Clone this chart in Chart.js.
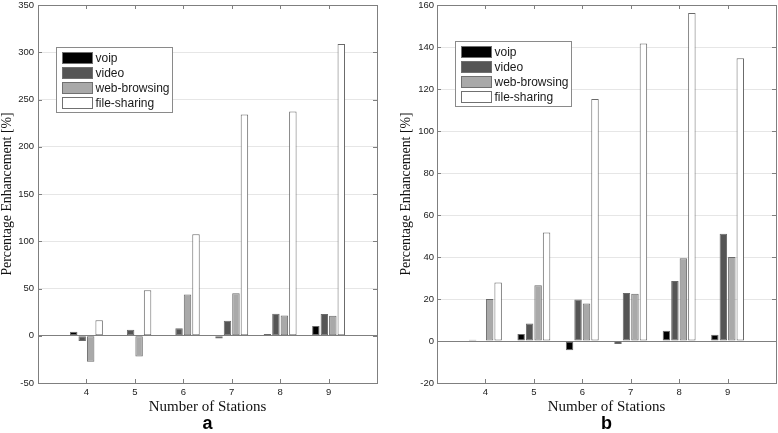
<!DOCTYPE html>
<html>
<head>
<meta charset="utf-8">
<script src="https://cdn.jsdelivr.net/npm/chart.js@4.4.1/dist/chart.umd.min.js"></script>
<style>
  html, body { margin: 0; padding: 0; background: #fff; }
  .panel { position: absolute; top: 0; width: 389px; height: 433px; }
</style>
</head>
<body>
<div class="panel" style="left:0"><canvas id="chartA"></canvas></div>
<div class="panel" style="left:389px"><canvas id="chartB"></canvas></div>
<script>
// ── DATA ──────────────────────────────────────────────────────────────────────
const stations    = [4, 5, 6, 7, 8, 9];
const seriesNames = ['voip', 'video', 'web-browsing', 'file-sharing'];

// panel a
const voipA  = [4.2, -0.5, 0, -3, 1.8, 10.2];
const videoA = [-5.6, 6.3, 8, 15.8, 23.2, 22.9];
const webA   = [-27.5, -22, 43.7, 45, 21.5, 21.1];
const fileA  = [16.5, 48.2, 107.4, 234, 237.3, 308.8];

// panel b
const voipB  = [0.6, 3.3, -4.4, -1.4, 4.9, 3.0];
const videoB = [0.2, 8.3, 19.8, 22.9, 28.6, 51.1];
const webB   = [20, 26.5, 17.8, 22.5, 39.4, 40];
const fileB  = [27.9, 51.7, 115.2, 141.7, 156.2, 134.6];

const FILLS = ['#000000', '#555555', '#a9a9a9', '#ffffff'];
const AXIS  = '#7f7f7f';
const SANS  = "'Liberation Sans', Arial, sans-serif";
const SERIF = "'Liberation Serif', 'Times New Roman', serif";

// ── FRAME + LEGEND (matlab-like box, inward ticks, legend inside plot) ────────
const matlabFrame = {
  id: 'matlabFrame',
  afterDatasetsDraw(chart, args, opts) {
    const { ctx, chartArea: { left, right, top, bottom }, scales: { x, y } } = chart;
    ctx.save();
    ctx.strokeStyle = AXIS;
    ctx.lineWidth = 1;
    ctx.beginPath();
    x.ticks.forEach(t => {
      const px = Math.round(x.getPixelForValue(t.value)) + 0.5;
      ctx.moveTo(px, bottom); ctx.lineTo(px, bottom - 4);
      ctx.moveTo(px, top);    ctx.lineTo(px, top + 4);
    });
    y.ticks.forEach(t => {
      const py = Math.round(y.getPixelForValue(t.value)) + 0.5;
      ctx.moveTo(left, py);  ctx.lineTo(left + 4, py);
      ctx.moveTo(right, py); ctx.lineTo(right - 4, py);
    });
    ctx.stroke();
    ctx.strokeRect(Math.round(left) + 0.5, Math.round(top) + 0.5,
                   Math.round(right - left), Math.round(bottom - top));

    // legend
    const bx = Math.round(left + opts.dx) + 0.5, by = Math.round(top + opts.dy) + 0.5;
    ctx.fillStyle = '#fff';
    ctx.fillRect(bx, by, 116, 65);
    ctx.strokeStyle = '#8a8a8a';
    ctx.strokeRect(bx, by, 116, 65);
    ctx.font = '12px ' + SANS;
    ctx.textBaseline = 'middle';
    ctx.textAlign = 'left';
    chart.data.datasets.forEach((ds, i) => {
      const sy = Math.round(by + 4 + i * 15.3) + 0.5;
      ctx.fillStyle = ds.backgroundColor;
      ctx.fillRect(bx + 6, sy, 30, 11);
      ctx.strokeStyle = '#707070';
      ctx.strokeRect(bx + 6, sy, 30, 11);
      ctx.fillStyle = '#1a1a1a';
      ctx.fillText(ds.label, bx + 39, sy + 6);
    });
    ctx.restore();
  }
};

function makeChart(id, series, yMin, yMax, yStep, cfg) {
  return new Chart(document.getElementById(id), {
    type: 'bar',
    data: {
      datasets: series.map((vals, i) => ({
        label: seriesNames[i],
        data: stations.map((s, k) => ({ x: s, y: vals[k] })),
        backgroundColor: FILLS[i],
        borderColor: '#6a6a6a',
        borderWidth: 1,
        borderSkipped: false,
        categoryPercentage: 0.7,
        barPercentage: 0.88,
      }))
    },
    options: {
      responsive: true,
      maintainAspectRatio: false,
      devicePixelRatio: 1,
      animation: false,
      layout: { padding: { left: 0, right: cfg.padRight, top: 5, bottom: 0 } },
      scales: {
        x: {
          type: 'linear', min: 3, max: 10, offset: false,
          afterBuildTicks: s => { s.ticks = stations.map(v => ({ value: v })); },
          afterFit: s => { s.height = 32; },
          grid: { display: false, drawTicks: false },
          border: { display: false },
          ticks: { padding: 5, color: '#222', font: { family: SANS, size: 9.5, lineHeight: 1 } },
          title: { display: true, text: 'Number of Stations', color: '#111',
                   font: { family: SERIF, size: 15, lineHeight: 1 }, padding: { top: 0, bottom: 0 } }
        },
        y: {
          min: yMin, max: yMax,
          afterFit: s => { s.width = cfg.yWidth; s.paddingTop = 0; s.paddingBottom = 0; },
          grid: {
            drawTicks: false,
            color: c => (c.tick && c.tick.value === 0) ? AXIS : '#e6e6e6'
          },
          border: { display: false },
          ticks: { stepSize: yStep, padding: cfg.tickPad, color: '#222',
                   font: { family: SANS, size: 9.5, lineHeight: 1 } },
          title: { display: true, text: 'Percentage Enhancement [%]', color: '#111',
                   font: { family: SERIF, size: 13.8, lineHeight: 1 }, padding: { top: cfg.titlePad, bottom: 0 } }
        }
      },
      plugins: {
        legend: { display: false },
        tooltip: { enabled: false },
        title: {
          display: true, text: cfg.letter, position: 'bottom', fullSize: false,
          color: '#000', font: { family: SANS, size: 18, weight: 'bold', lineHeight: 1 },
          padding: { top: 0, bottom: 0 }
        },
        matlabFrame: { dx: 18, dy: cfg.legendDy }
      }
    },
    plugins: [matlabFrame]
  });
}

makeChart('chartA', [voipA, videoA, webA, fileA], -50, 350, 50,
  { padRight: 12, yWidth: 38, tickPad: 4, titlePad: 0, legendDy: 42, letter: 'a' });
makeChart('chartB', [voipB, videoB, webB, fileB], -20, 160, 20,
  { padRight: 2, yWidth: 48, tickPad: 3, titlePad: 10, legendDy: 36, letter: 'b' });
</script>
</body>
</html>
